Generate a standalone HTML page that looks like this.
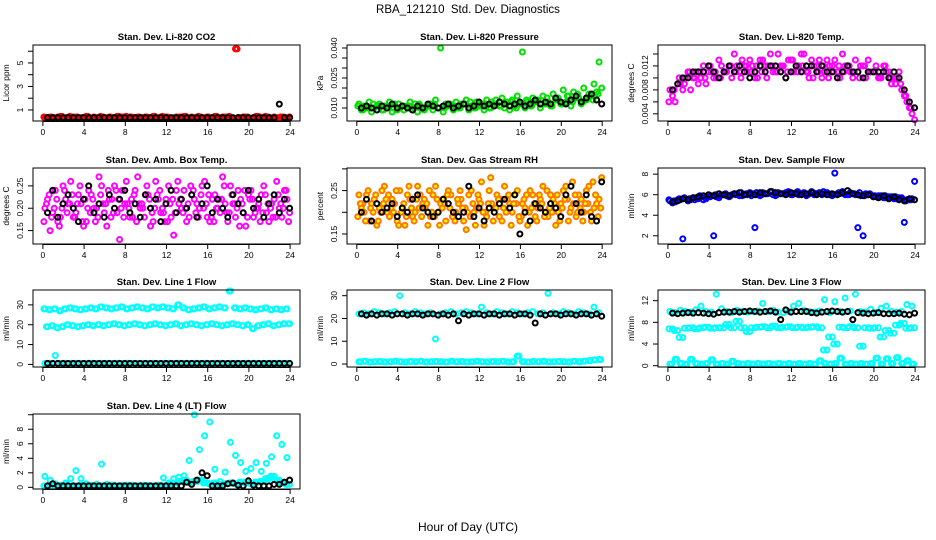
<!DOCTYPE html>
<html><head><meta charset="utf-8"><style>
body{margin:0;background:#fff}
svg{display:block;font-family:"Liberation Sans",sans-serif}
</style></head><body>
<svg id="chart" width="936" height="540" viewBox="0 0 936 540">
<text x="468" y="13" text-anchor="middle" font-size="11.5" xml:space="preserve">RBA_121210  Std. Dev. Diagnostics</text>
<text x="468" y="531" text-anchor="middle" font-size="12">Hour of Day (UTC)</text>
</svg>
<script>
const H=[0.2,0.7,1.2,1.7,2.2,2.7,3.2,3.7,4.2,4.7,5.2,5.7,6.2,6.7,7.2,7.7,8.2,8.7,9.2,9.7,10.2,10.7,11.2,11.7,12.2,12.7,13.2,13.7,14.2,14.7,15.2,15.7,16.2,16.7,17.2,17.7,18.2,18.7,19.2,19.7,20.2,20.7,21.2,21.7,22.2,22.7,23.2,23.7];
const H2=[0.45,0.95,1.45,1.95,2.45,2.95,3.45,3.95,4.45,4.95,5.45,5.95,6.45,6.95,7.45,7.95,8.45,8.95,9.45,9.95,10.45,10.95,11.45,11.95,12.45,12.95,13.45,13.95,14.45,14.95,15.45,15.95,16.45,16.95,17.45,17.95,18.45,18.95,19.45,19.95,20.45,20.95,21.45,21.95,22.45,22.95,23.45,23.95];
const H3=[0.1,0.6,1.1,1.6,2.1,2.6,3.1,3.6,4.1,4.6,5.1,5.6,6.1,6.6,7.1,7.6,8.1,8.6,9.1,9.6,10.1,10.6,11.1,11.6,12.1,12.6,13.1,13.6,14.1,14.6,15.1,15.6,16.1,16.6,17.1,17.6,18.1,18.6,19.1,19.6,20.1,20.6,21.1,21.6,22.1,22.6,23.1,23.6];
const H4=[0.35,0.85,1.35,1.85,2.35,2.85,3.35,3.85,4.35,4.85,5.35,5.85,6.35,6.85,7.35,7.85,8.35,8.85,9.35,9.85,10.35,10.85,11.35,11.85,12.35,12.85,13.35,13.85,14.35,14.85,15.35,15.85,16.35,16.85,17.35,17.85,18.35,18.85,19.35,19.85,20.35,20.85,21.35,21.85,22.35,22.85,23.35,23.85];
const xTicks=[0,4,8,12,16,20,24];

const co2Red=[0.35,0.4,0.3,0.45,0.35,0.3,0.4,0.35,0.45,0.3,0.35,0.4,0.3,0.35,0.45,0.4,0.3,0.35,0.4,0.35,0.3,0.45,0.35,0.4,0.3,0.35,0.4,0.45,0.3,0.35,0.4,0.35,0.3,0.45,0.35,0.4,0.3,6.2,0.35,0.4,0.3,0.45,0.35,0.4,0.3,0.35,0.4,0.3];
const co2Red2=[0.3,0.35,0.4,0.3,0.35,0.4,0.3,0.35,0.3,0.4,0.35,0.3,0.4,0.35,0.3,0.35,0.4,0.3,0.35,0.4,0.35,0.3,0.4,0.35,0.3,0.4,0.35,0.3,0.4,0.35,0.3,0.4,0.35,0.3,0.4,0.35,0.3,0.35,0.4,0.3,0.35,0.4,0.3,0.35,0.4,0.3,0.35,0.4];
const co2Red3=[0.4,0.3,0.35,0.4,0.3,0.45,0.35,0.3,0.4,0.35,0.3,0.45,0.35,0.4,0.3,0.35,0.45,0.4,0.3,0.35,0.4,0.35,0.3,0.45,0.4,0.3,0.35,0.4,0.35,0.3,0.45,0.3,0.4,0.35,0.3,0.4,0.45,0.3,0.35,0.4,0.3,0.35,0.4,0.45,0.35,0.3,0.4,0.35];
const co2Black=[0.35,0.35,0.35,0.35,0.35,0.35,0.35,0.35,0.35,0.35,0.35,0.35,0.35,0.35,0.35,0.35,0.35,0.35,0.35,0.35,0.35,0.35,0.35,0.35,0.35,0.35,0.35,0.35,0.35,0.35,0.35,0.35,0.35,0.35,0.35,0.35,0.35,0.35,0.35,0.35,0.35,0.35,0.35,0.35,0.35,1.5,0.35,0.35];

const presGreen=[0.012,0.011,0.013,0.010,0.012,0.011,0.013,0.012,0.010,0.011,0.013,0.012,0.011,0.010,0.012,0.014,0.040,0.012,0.011,0.013,0.012,0.014,0.011,0.013,0.012,0.014,0.013,0.012,0.015,0.013,0.014,0.016,0.038,0.013,0.015,0.014,0.016,0.013,0.017,0.015,0.019,0.016,0.018,0.015,0.020,0.017,0.022,0.033];
const presGreen2=[0.009,0.010,0.008,0.011,0.009,0.010,0.008,0.009,0.011,0.010,0.009,0.008,0.010,0.011,0.009,0.010,0.008,0.011,0.009,0.010,0.012,0.009,0.010,0.011,0.009,0.010,0.012,0.011,0.010,0.009,0.011,0.012,0.010,0.011,0.013,0.010,0.012,0.011,0.014,0.012,0.013,0.011,0.015,0.012,0.014,0.016,0.018,0.020];
const presGreen3=[0.011,0.009,0.010,0.012,0.011,0.009,0.011,0.010,0.012,0.009,0.011,0.010,0.012,0.009,0.011,0.012,0.010,0.010,0.012,0.011,0.010,0.012,0.013,0.010,0.011,0.012,0.010,0.014,0.011,0.012,0.013,0.010,0.012,0.014,0.011,0.013,0.012,0.015,0.011,0.014,0.012,0.016,0.013,0.017,0.013,0.015,0.014,0.017];
const presBlack=[0.010,0.011,0.010,0.009,0.011,0.010,0.012,0.010,0.011,0.010,0.009,0.011,0.010,0.012,0.011,0.010,0.011,0.012,0.010,0.011,0.012,0.010,0.011,0.013,0.011,0.012,0.011,0.013,0.012,0.011,0.012,0.013,0.011,0.012,0.014,0.012,0.013,0.012,0.015,0.013,0.012,0.014,0.016,0.013,0.015,0.017,0.014,0.012];

const tempMag=[0.008,0.006,0.009,0.010,0.008,0.011,0.010,0.009,0.011,0.010,0.012,0.011,0.010,0.012,0.013,0.011,0.012,0.010,0.013,0.012,0.011,0.014,0.012,0.013,0.011,0.012,0.014,0.010,0.012,0.013,0.011,0.012,0.013,0.010,0.012,0.011,0.013,0.012,0.010,0.011,0.012,0.010,0.011,0.009,0.010,0.008,0.006,0.004];
const tempMag2=[0.007,0.009,0.008,0.011,0.010,0.009,0.012,0.011,0.010,0.013,0.011,0.012,0.014,0.011,0.012,0.013,0.010,0.013,0.012,0.014,0.011,0.012,0.010,0.013,0.012,0.014,0.011,0.013,0.012,0.010,0.013,0.012,0.011,0.014,0.012,0.010,0.011,0.012,0.013,0.011,0.010,0.012,0.011,0.010,0.011,0.007,0.005,0.003];
const tempMag3=[0.006,0.008,0.010,0.009,0.011,0.010,0.011,0.010,0.012,0.011,0.010,0.011,0.012,0.011,0.010,0.012,0.011,0.012,0.011,0.010,0.012,0.011,0.012,0.011,0.013,0.011,0.012,0.011,0.010,0.011,0.012,0.010,0.011,0.012,0.011,0.012,0.011,0.010,0.012,0.011,0.011,0.010,0.012,0.010,0.009,0.009,0.007,0.005];
const tempBlack=[0.008,0.009,0.010,0.010,0.011,0.011,0.011,0.012,0.011,0.010,0.011,0.012,0.011,0.012,0.011,0.010,0.011,0.012,0.011,0.012,0.012,0.011,0.010,0.011,0.012,0.011,0.012,0.012,0.011,0.012,0.011,0.011,0.010,0.011,0.012,0.011,0.011,0.010,0.011,0.011,0.011,0.011,0.010,0.011,0.010,0.008,0.006,0.005];

const ambMag=[0.20,0.15,0.24,0.18,0.22,0.26,0.19,0.21,0.17,0.23,0.20,0.25,0.16,0.22,0.19,0.24,0.21,0.18,0.27,0.20,0.23,0.17,0.22,0.19,0.25,0.14,0.21,0.24,0.18,0.22,0.20,0.26,0.17,0.23,0.19,0.21,0.25,0.18,0.22,0.16,0.24,0.20,0.23,0.19,0.21,0.26,0.18,0.22];
const ambMag2=[0.22,0.19,0.17,0.25,0.21,0.18,0.23,0.16,0.24,0.20,0.27,0.19,0.22,0.25,0.13,0.21,0.18,0.24,0.20,0.23,0.16,0.26,0.19,0.22,0.18,0.24,0.20,0.17,0.23,0.21,0.25,0.18,0.22,0.20,0.27,0.17,0.21,0.24,0.19,0.23,0.18,0.21,0.25,0.17,0.22,0.20,0.24,0.19];
const ambMag3=[0.17,0.23,0.20,0.16,0.24,0.21,0.18,0.25,0.22,0.19,0.17,0.23,0.21,0.18,0.24,0.20,0.26,0.22,0.17,0.21,0.25,0.19,0.23,0.20,0.17,0.22,0.26,0.19,0.21,0.24,0.18,0.20,0.23,0.17,0.22,0.25,0.19,0.21,0.16,0.24,0.22,0.19,0.17,0.23,0.20,0.18,0.21,0.24];
const ambMag4=[0.21,0.18,0.22,0.20,0.19,0.23,0.21,0.17,0.20,0.22,0.18,0.21,0.24,0.19,0.22,0.18,0.20,0.23,0.21,0.18,0.22,0.20,0.24,0.17,0.21,0.19,0.22,0.20,0.25,0.19,0.23,0.21,0.18,0.20,0.22,0.19,0.23,0.20,0.21,0.18,0.22,0.20,0.19,0.21,0.18,0.23,0.20,0.17];
const ambBlack=[0.19,0.24,0.18,0.21,0.23,0.20,0.17,0.22,0.25,0.19,0.21,0.18,0.23,0.20,0.22,0.24,0.19,0.21,0.18,0.23,0.20,0.22,0.17,0.21,0.24,0.19,0.22,0.20,0.23,0.18,0.21,0.25,0.19,0.22,0.20,0.18,0.23,0.21,0.19,0.24,0.20,0.22,0.18,0.21,0.23,0.19,0.22,0.20];

const rhOrange=[0.24,0.20,0.18,0.23,0.21,0.26,0.19,0.22,0.25,0.17,0.23,0.20,0.24,0.21,0.19,0.26,0.22,0.18,0.24,0.20,0.23,0.16,0.25,0.21,0.27,0.19,0.22,0.24,0.18,0.23,0.20,0.25,0.22,0.17,0.24,0.21,0.26,0.19,0.23,0.20,0.25,0.18,0.22,0.24,0.20,0.26,0.21,0.23];
const rhOrange2=[0.21,0.24,0.22,0.17,0.25,0.20,0.23,0.18,0.21,0.24,0.19,0.26,0.22,0.17,0.24,0.20,0.23,0.25,0.19,0.22,0.18,0.24,0.20,0.23,0.17,0.25,0.21,0.19,0.26,0.22,0.24,0.18,0.21,0.25,0.19,0.23,0.20,0.24,0.17,0.22,0.26,0.21,0.19,0.23,0.25,0.18,0.22,0.28];
const rhOrange3=[0.19,0.22,0.25,0.20,0.18,0.22,0.24,0.20,0.17,0.22,0.26,0.18,0.21,0.23,0.25,0.19,0.17,0.22,0.21,0.18,0.25,0.21,0.19,0.17,0.22,0.20,0.28,0.21,0.23,0.20,0.17,0.22,0.19,0.24,0.21,0.18,0.22,0.25,0.20,0.24,0.21,0.23,0.27,0.20,0.18,0.22,0.27,0.19];
const rhOrange4=[0.22,0.18,0.21,0.24,0.20,0.23,0.21,0.25,0.20,0.19,0.21,0.23,0.19,0.22,0.20,0.23,0.21,0.24,0.19,0.23,0.21,0.20,0.22,0.24,0.20,0.22,0.18,0.23,0.21,0.24,0.22,0.19,0.23,0.20,0.22,0.24,0.19,0.21,0.22,0.18,0.23,0.20,0.24,0.21,0.22,0.20,0.24,0.21];
const rhBlack=[0.20,0.23,0.18,0.22,0.20,0.21,0.22,0.19,0.21,0.20,0.23,0.24,0.21,0.20,0.19,0.20,0.23,0.22,0.20,0.19,0.20,0.26,0.19,0.21,0.18,0.21,0.20,0.22,0.23,0.21,0.24,0.15,0.20,0.18,0.22,0.21,0.20,0.22,0.21,0.19,0.24,0.26,0.22,0.20,0.24,0.19,0.18,0.27];

const flowBlue=[5.4,5.3,5.5,5.6,5.5,5.7,5.8,5.6,5.9,5.8,6.0,5.9,6.0,6.1,5.9,6.0,6.1,6.0,6.2,6.1,6.0,6.2,6.1,6.3,6.1,6.0,6.2,6.1,6.0,6.2,6.1,6.0,8.1,6.1,6.0,6.2,6.0,5.9,6.1,6.0,5.8,5.9,5.7,5.8,5.6,5.7,5.5,5.6];
const flowBlue2=[5.2,5.5,1.7,5.4,5.7,5.6,5.5,5.8,2.0,5.7,6.0,5.8,6.1,5.9,6.0,6.2,2.8,5.9,6.1,6.3,5.9,6.1,6.2,6.0,6.2,6.1,5.9,6.3,6.1,6.0,6.2,5.9,6.1,6.3,6.0,6.1,2.8,2.0,6.0,5.8,5.9,5.7,5.8,5.6,5.7,3.3,5.5,7.3];
const flowBlue3=[5.5,5.4,5.6,5.7,5.6,5.5,5.9,5.7,5.8,6.0,5.9,6.1,5.9,6.0,6.2,6.1,5.9,6.2,6.0,6.1,6.3,6.0,6.1,6.2,6.0,6.3,6.1,6.0,6.2,6.1,6.3,6.1,6.0,6.2,6.1,6.0,6.1,6.2,5.9,6.1,5.9,5.8,5.9,5.7,5.8,5.6,5.4,5.5];
const flowBlack=[5.3,5.4,5.6,5.5,5.7,5.8,5.9,6.0,5.9,6.1,6.0,5.9,6.1,6.2,6.0,6.1,6.0,6.2,6.1,6.3,6.2,6.1,6.0,6.2,6.1,6.0,6.1,6.2,6.0,6.1,6.0,6.1,6.0,6.2,6.4,6.1,6.0,5.9,6.0,5.8,5.7,5.9,5.6,5.8,5.5,5.4,5.6,5.5];

const l1Top=[28,27.5,28,27,28,28.5,28,27.5,28,28.5,28,29,28.5,28,28.5,29,28,28.5,29,28.5,28,29,28.5,29,28.5,28,30,28.5,27.5,28,28.5,29,28,28.5,29,28.5,37,28.5,28,28.5,28,27.5,28,28.5,27.5,28,27.5,28];
const l1Mid=[19,19.5,18.5,19,20,19.5,19,19.5,20,19.5,20,19.5,20,20.5,20,19.5,20,20.5,20,19.5,20,20.5,20,19.5,20,20.5,19.5,20,20.5,20,19.5,20,20.5,20,19.5,20,20.5,20,19.5,20,18,19.5,20,20.5,19.5,20,20.5,20.5];
const l1Low=[0.5,0.6,4.5,0.5,0.6,0.5,0.6,0.5,0.5,0.6,0.5,0.6,0.5,0.5,0.6,0.5,0.6,0.5,0.5,0.6,0.5,0.6,0.5,0.5,0.6,0.5,0.6,0.5,0.5,0.6,0.5,0.6,0.5,0.5,0.6,0.5,0.6,0.5,0.5,0.6,0.5,0.6,0.5,0.5,0.6,0.5,0.6,0.5];
const l1Black=[0.5,0.5,0.5,0.5,0.5,0.5,0.5,0.5,0.5,0.5,0.5,0.5,0.5,0.5,0.5,0.5,0.5,0.5,0.5,0.5,0.5,0.5,0.5,0.5,0.5,0.5,0.5,0.5,0.5,0.5,0.5,0.5,0.5,0.5,0.5,0.5,0.5,0.5,0.5,0.5,0.5,0.5,0.5,0.5,0.5,0.5,0.5,0.5];

const l2Top=[22,22.5,22,23,22.5,22,22.5,23,30,22.5,22,23,22.5,22,22.5,11,22,22.5,23,22,22.5,23,22.5,22,25,22.5,22,23,22.5,22,23,22.5,22,22.5,23,22,22.5,31,22.5,22,23,22.5,22,23,22.5,22,25,22.5];
const l2Low=[1,1.2,0.9,1,1.1,0.9,1,1.2,1,0.9,1.1,1,1.2,0.9,1,1.1,1,0.9,1.2,1,1.1,0.9,1,1.2,1,0.9,1.1,1,1.2,0.9,1,3.5,1,0.9,1.1,1,1.2,0.9,1,1.1,1,0.9,1.2,1,1.3,1.5,1.8,2];
const l2Black=[22,21.5,22,21.5,22,22,21.5,22,22,21.5,22,22,21.5,22,22,21.5,22,21.5,22,19,22,21.5,22,22,21.5,22,22,21.5,22,22,21.5,22,22,21.5,18,22,21.5,22,22,21.5,22,22,21.5,22,22,21.5,22,21];

const l3Top=[10,9.8,10.2,10,9.9,10.3,11,10,9.9,13.2,10.5,10,9.8,10.2,10,9.9,10,10.1,11.5,10,10.2,9.9,9.8,10,11,11.5,10.2,10,9.9,10.1,12.2,9.8,11.8,10,12.5,10.1,13.2,10,9.9,10.4,9.8,10.6,11,10,9.9,10,11.3,11];
const l3Mid=[6.8,6.5,5.2,6.9,7.0,6.8,7.0,7.1,6.9,7.0,7.0,7.6,7.0,8.2,7.0,6.3,7.0,7.1,7.2,7.0,7.3,7.0,7.1,7.2,7.0,7.1,7.0,7.1,7.2,7.0,2.9,5.3,4.0,7.1,7.0,7.2,7.0,3.6,7.0,6.9,7.0,5.3,6.5,6.0,7.5,7.8,6.9,7.0];
const l3Low=[0.3,1.2,0.4,0.3,1.2,0.4,0.3,0.4,1.1,0.3,0.4,0.3,0.8,0.4,0.3,0.4,0.3,0.4,0.3,0.4,0.3,0.4,0.3,0.4,0.3,0.4,0.3,0.4,0.3,0.9,0.4,0.3,0.4,1.4,0.3,0.4,0.3,0.4,0.3,0.4,1.4,0.3,1.3,0.4,1.5,0.4,0.9,0.3];
const l3Black=[9.7,9.6,9.7,9.8,9.7,9.8,9.7,9.6,9.5,9.8,9.9,9.9,10.0,9.9,10.0,10.1,10.0,9.9,10.0,10.1,9.9,8.5,10.3,9.9,10.0,10.0,10.0,9.8,9.7,9.9,10.0,10.1,10.0,9.9,10.0,8.5,9.8,9.7,9.6,9.7,9.8,9.6,9.6,9.6,9.7,9.5,9.4,9.7];

const l4Base=[0.2,0.3,0.2,0.2,0.3,0.2,0.2,0.3,0.2,0.2,0.3,0.2,0.2,0.3,0.2,0.2,0.3,0.2,0.2,0.3,0.2,0.2,0.3,0.2,0.4,0.6,0.8,1.0,0.7,0.8,1.0,0.6,0.5,0.6,0.4,0.5,0.6,0.5,0.7,0.6,0.5,0.7,0.8,1.2,1.5,1.0,0.6,0.4];
const l4Spike=[1.5,1.0,0.5,0.3,0.6,1.2,2.3,1.2,0.5,0.3,0.4,3.2,0.4,0.3,0.2,0.3,0.2,0.3,0.2,0.2,0.3,0.2,0.2,1.3,0.6,1.2,1.4,1.6,3.7,10,5.2,7.1,9,2.5,0.8,2.1,6.2,4.4,3.4,2.2,2.6,3.4,2.2,3.3,4.2,7.1,5.9,4.1];
const l4Black=[0.2,0.5,0.2,0.2,0.2,0.2,0.2,0.2,0.2,0.2,0.2,0.2,0.2,0.2,0.2,0.2,0.2,0.2,0.2,0.2,0.2,0.2,0.2,0.2,0.2,0.2,0.2,0.7,0.4,1.0,2.0,1.6,0.2,0.2,0.2,0.5,0.6,0.3,0.2,0.9,0.3,0.2,0.2,0.2,0.4,0.4,0.7,1.0];

const cols=[[33,300],[347,612],[658,925]];
const rows=[[45,121],[168,244],[290,367],[414,489]];
const panels=[
 {title:"Stan. Dev. Li-820 CO2",ylab:"Licor ppm",c:0,r:0,dom:[0.06,6.53],ticks:[1,2,3,4,5,6],labels:["1","","3","","5",""],series:[[H,co2Red,"#ff0000"],[H2,co2Red2,"#ff0000"],[H3,co2Red3,"#ff0000"],[H4,co2Red,"#ff0000"],[H2,co2Black,"#000"]]},
 {title:"Stan. Dev. Li-820 Pressure",ylab:"kPa",c:1,r:0,dom:[0.0035,0.0415],ticks:[0.010,0.015,0.020,0.025,0.030,0.035,0.040],labels:["0.010","","","0.025","","","0.040"],series:[[H,presGreen,"#00e000"],[H2,presGreen2,"#00e000"],[H3,presGreen3,"#00e000"],[H2,presBlack,"#000"]]},
 {title:"Stan. Dev. Li-820 Temp.",ylab:"degrees C",c:2,r:0,dom:[0.0028,0.0155],ticks:[0.004,0.006,0.008,0.010,0.012,0.014],labels:["0.004","","0.008","","0.012",""],series:[[H,tempMag,"#ff00ff"],[H2,tempMag2,"#ff00ff"],[H3,tempMag3,"#ff00ff"],[H2,tempBlack,"#000"]]},
 {title:"Stan. Dev. Amb. Box Temp.",ylab:"degrees C",c:0,r:1,dom:[0.12,0.29],ticks:[0.15,0.20,0.25],labels:["0.15","0.20","0.25"],series:[[H,ambMag,"#ff00ff"],[H2,ambMag2,"#ff00ff"],[H3,ambMag3,"#ff00ff"],[H4,ambMag4,"#ff00ff"],[H2,ambBlack,"#000"]]},
 {title:"Stan. Dev. Gas Stream RH",ylab:"percent",c:1,r:1,dom:[0.127,0.302],ticks:[0.15,0.20,0.25,0.30],labels:["0.15","","0.25",""],series:[[H,rhOrange,"#ff7700",true],[H2,rhOrange2,"#ff7700",true],[H3,rhOrange3,"#ff7700",true],[H4,rhOrange4,"#ff7700",true],[H2,rhBlack,"#000"]]},
 {title:"Stan. Dev. Sample Flow",ylab:"ml/min",c:2,r:1,dom:[1.2,8.6],ticks:[2,4,6,8],labels:["2","4","6","8"],series:[[H,flowBlue,"#0000ff"],[H2,flowBlue2,"#0000ff"],[H3,flowBlue3,"#0000ff"],[H2,flowBlack,"#000"]]},
 {title:"Stan. Dev. Line 1 Flow",ylab:"ml/min",c:0,r:2,dom:[-1.3,37.5],ticks:[0,10,20,30],labels:["0","10","20","30"],series:[[H,l1Top,"#00ffff"],[H3,l1Top,"#00ffff"],[H2,l1Mid,"#00ffff"],[H4,l1Mid,"#00ffff"],[H,l1Low,"#00ffff"],[H2,l1Black,"#000"]]},
 {title:"Stan. Dev. Line 2 Flow",ylab:"ml/min",c:1,r:2,dom:[-1.3,32.5],ticks:[0,10,20,30],labels:["0","10","20","30"],series:[[H,l2Top,"#00ffff"],[H,l2Low,"#00ffff"],[H4,l2Low,"#00ffff"],[H2,l2Black,"#000"]]},
 {title:"Stan. Dev. Line 3 Flow",ylab:"ml/min",c:2,r:2,dom:[-0.24,13.97],ticks:[0,4,8,12],labels:["0","4","8","12"],series:[[H,l3Top,"#00ffff"],[H2,l3Mid,"#00ffff"],[H3,l3Mid,"#00ffff"],[H,l3Low,"#00ffff"],[H4,l3Low,"#00ffff"],[H2,l3Black,"#000"]]},
 {title:"Stan. Dev. Line 4 (LT) Flow",ylab:"ml/min",c:0,r:3,dom:[-0.23,10.1],ticks:[0,2,4,6,8,10],labels:["0","2","4","6","8",""],series:[[H,l4Base,"#00ffff"],[H2,l4Base,"#00ffff"],[H3,l4Base,"#00ffff"],[H,l4Spike,"#00ffff"],[H2,l4Black,"#000"]]}
];
const NS="http://www.w3.org/2000/svg";
const svg=document.getElementById('chart');
function mk(tag,attrs,parent){const e=document.createElementNS(NS,tag);for(const k in attrs)e.setAttribute(k,attrs[k]);parent.appendChild(e);return e;}
panels.forEach((p,pi)=>{
 const [x0,x1]=cols[p.c],[y0,y1]=rows[p.r];
 const sx=v=>x0+(v+0.96)/(25.92)*(x1-x0);
 const sy=v=>y1-(v-p.dom[0])/(p.dom[1]-p.dom[0])*(y1-y0);
 const g=mk('g',{},svg);
 
 
 const t=mk('text',{x:(x0+x1)/2,y:y0-5,'text-anchor':'middle','font-size':9.5,'font-weight':'bold'},g);t.textContent=p.title;
 
 
 const pts=mk('g',{fill:'none','stroke-width':2},g);
 
 
 p.series.forEach(s=>{
  const xs=s[0],ys=s[1],n=Math.min(xs.length,ys.length);
  for(let i=0;i<n;i++){
   const c=mk('circle',{cx:sx(xs[i]).toFixed(1),cy:sy(ys[i]).toFixed(1),r:2.5,stroke:s[2]},pts);
   if(s[3])c.setAttribute('fill','#ffff00');
   
   
  }
 });
 const box=mk('rect',{x:x0,y:y0,width:x1-x0,height:y1-y0,fill:'none',stroke:'#000','stroke-width':1},g);
 
 
 const xa=mk('g',{stroke:'#000','font-size':8.5},g);
 
 
 mk('line',{x1:sx(0),x2:sx(24),y1:y1+0.5,y2:y1+0.5},xa);
 xTicks.forEach(v=>{mk('line',{x1:sx(v),x2:sx(v),y1:y1,y2:y1+5},xa);const l=mk('text',{x:sx(v),y:y1+14,'text-anchor':'middle',stroke:'none',fill:'#000'},xa);l.textContent=v;});
 const ya=mk('g',{stroke:'#000','font-size':8.5},g);
 
 
 p.ticks.forEach((v,i)=>{const y=sy(v);mk('line',{x1:x0-5,x2:x0,y1:y,y2:y},ya);
  if(p.labels[i]){const l=mk('text',{x:x0-10,y:y,'text-anchor':'middle',stroke:'none',fill:'#000',transform:`rotate(-90 ${x0-10} ${y})`},ya);l.textContent=p.labels[i];}});
 const yl=mk('text',{x:x0-24,y:(y0+y1)/2,'text-anchor':'middle','font-size':8.5,transform:`rotate(-90 ${x0-24} ${(y0+y1)/2})`},g);yl.textContent=p.ylab;
 
 
});
</script>
</body></html>
